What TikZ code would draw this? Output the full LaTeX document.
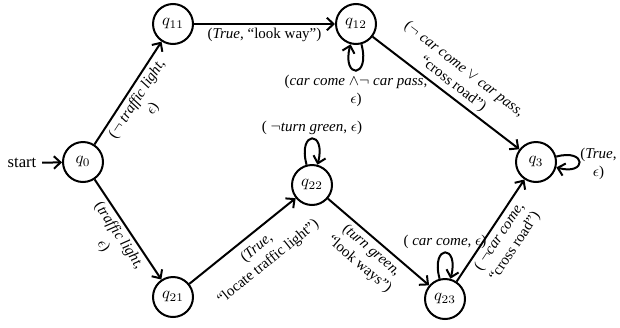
\documentclass[tikz,border=0pt]{standalone}
\usepackage{fontspec}
\setmainfont{Liberation Serif}
\usetikzlibrary{arrows.meta}
\begin{document}
\begin{tikzpicture}[x=0.6pt,y=-0.6pt,
  >={Straight Barb[length=4pt,width=7.5pt]},
  st/.style={circle,draw,line width=1.2pt,minimum size=24pt,inner sep=0pt},
  tr/.style={->,line width=1.2pt},
  lp/.style={looseness=8.5},
  lab/.style={font=\small,align=center,inner sep=2pt}]
\useasboundingbox (0,0) rectangle (620,327);
\node[st] (q0) at (83,162) {$q_0$};
\node[st] (q11) at (173,24) {$q_{11}$};
\node[st] (q12) at (356,24) {$q_{12}$};
\node[st] (q3) at (536,162) {$q_3$};
\node[st] (q21) at (173,297) {$q_{21}$};
\node[st] (q22) at (312,185) {$q_{22}$};
\node[st] (q23) at (445,299) {$q_{23}$};
\node (start) at (22,163) {start};
\draw[tr] (start) -- (q0);
\draw[tr] (q0) -- node[lab,sloped,below] {($\neg$ \textit{traffic light},\\$\epsilon$)} (q11);
\draw[tr] (q0) -- node[lab,sloped,below] {(\textit{traffic light},\\$\epsilon$)} (q21);
\draw[tr] (q11) -- node[lab,below] {(\textit{True}, ``look way'')} (q12);
\draw[tr] (q12) to[loop below,lp] node[lab,below] {(\textit{car come} $\land\neg$ \textit{car pass},\\$\epsilon$)} (q12);
\draw[tr] (q12) -- node[lab,sloped,above] {($\neg$ \textit{car come} $\lor$ \textit{car pass},\\``cross road'')} (q3);
\draw[tr] (q3) to[loop right,lp,looseness=7.5] node[lab,right,inner sep=0pt,yshift=-1pt] {(\textit{True},\\$\epsilon$)} (q3);
\draw[tr] (q21) -- node[lab,sloped,below,pos=0.55,inner sep=4pt] {(\textit{True},\\``locate traffic light'')} (q22);
\draw[tr] (q22) to[loop above,lp] node[lab,above] {( $\neg$\textit{turn green}, $\epsilon$)} (q22);
\draw[tr] (q22) -- node[lab,sloped,below] {(\textit{turn green},\\``look ways'')} (q23);
\draw[tr] (q23) to[loop above,lp] node[lab,above] {( \textit{car come}, $\epsilon$)} (q23);
\draw[tr] (q23) -- node[lab,sloped,below] {( $\neg$\textit{car come},\\``cross road'')} (q3);
\end{tikzpicture}
\end{document}
